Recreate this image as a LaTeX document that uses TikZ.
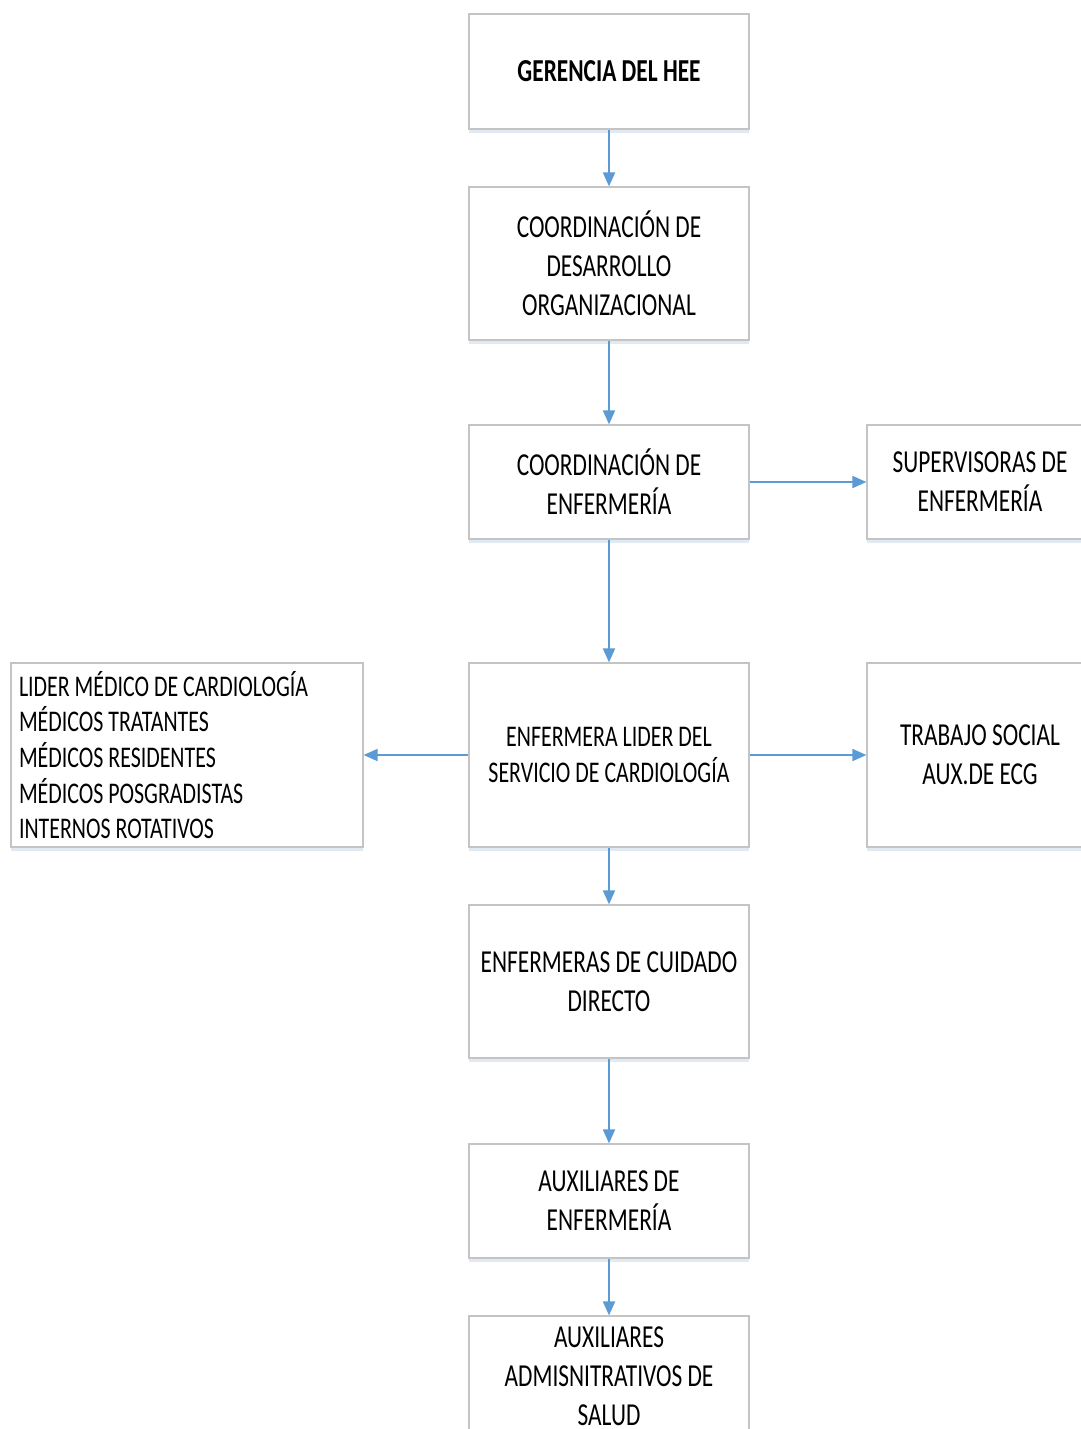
\documentclass[tikz,border=0pt]{standalone}
\usepackage{fontspec}
\setmainfont{Carlito}[FakeStretch=0.73]
\usetikzlibrary{arrows.meta}
\definecolor{linkblue}{HTML}{5B9BD5}
\definecolor{boxline}{HTML}{C4C4C4}
\definecolor{shadowblue}{HTML}{C9D9EA}
\tikzset{
  orgbox/.style={draw=boxline, line width=1.2pt, fill=white, rectangle, inner sep=0pt,
    align=center, minimum width=280pt,
    font=\fontsize{32}{39}\selectfont,
    preaction={fill=shadowblue, opacity=0.55, transform canvas={yshift=-4pt}}},
  smalltext/.style={font=\fontsize{30}{35.7}\selectfont},
  link/.style={draw=linkblue, line width=1.8pt, -{Triangle[length=14pt,width=12pt]}}
}
\begin{document}
\begin{tikzpicture}[x=1pt,y=-1pt]
\useasboundingbox (0,0) rectangle (1081,1429);
\clip (0,0) rectangle (1081,1429);
\fill[white] (0,0) rectangle (1081,1429);

\node[orgbox, minimum height=115pt, font=\fontsize{32}{39}\selectfont\bfseries] (g) at (609,71.5) {GERENCIA DEL HEE};
\node[orgbox, minimum height=153pt] (cd) at (609,263.5) {COORDINACIÓN DE\\DESARROLLO\\ORGANIZACIONAL};
\node[orgbox, minimum height=114pt] (ce) at (609,482) {COORDINACIÓN DE\\ENFERMERÍA};
\node[orgbox, minimum height=114pt, minimum width=226pt] (sup) at (980,482) {SUPERVISORAS DE\\ENFERMERÍA};
\node[orgbox, smalltext, minimum height=184pt, text width=336pt, inner xsep=8pt, align=left] (list) at (187,755)
  {\spaceskip=0pt\xspaceskip=0pt\relax
   LIDER MÉDICO DE CARDIOLOGÍA\\MÉDICOS TRATANTES\\MÉDICOS RESIDENTES\\MÉDICOS POSGRADISTAS\\INTERNOS ROTATIVOS};
\node[orgbox, smalltext, minimum height=184pt] (el) at (609,755) {ENFERMERA LIDER DEL\\SERVICIO DE CARDIOLOGÍA};
\node[orgbox, minimum height=184pt, minimum width=226pt] (ts) at (980,755) {TRABAJO SOCIAL\\AUX.DE ECG};
\node[orgbox, minimum height=153pt] (ec) at (609,981.5) {ENFERMERAS DE CUIDADO\\DIRECTO};
\node[orgbox, minimum height=114pt] (ae) at (609,1201) {AUXILIARES DE\\ENFERMERÍA};
\node[orgbox, minimum height=120pt] (aa) at (609,1376) {AUXILIARES\\ADMISNITRATIVOS DE\\SALUD};

\draw[link] (g) -- (cd);
\draw[link] (cd) -- (ce);
\draw[link] (ce) -- (sup);
\draw[link] (ce) -- (el);
\draw[link] (el) -- (list);
\draw[link] (el) -- (ts);
\draw[link] (el) -- (ec);
\draw[link] (ec) -- (ae);
\draw[link] (ae) -- (aa);
\end{tikzpicture}
\end{document}
